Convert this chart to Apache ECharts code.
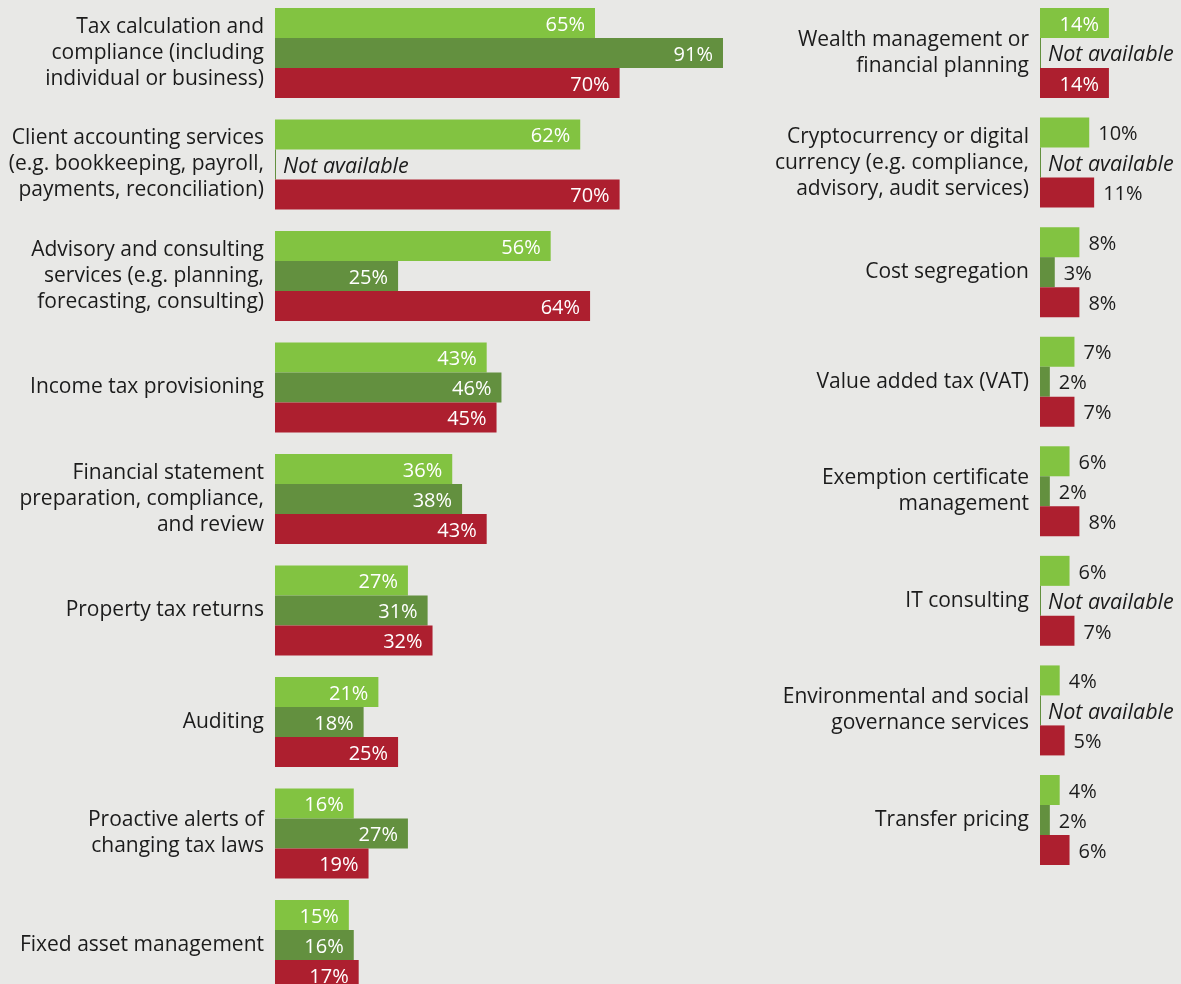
<!DOCTYPE html>
<html>
<head>
<meta charset="utf-8">
<title>Services offered</title>
<script src="https://cdn.jsdelivr.net/npm/echarts@6/dist/echarts.min.js"></script>
<style>
  html, body { margin: 0; padding: 0; background: #e8e8e6; }
  #chart { width: 1181px; height: 984px; }
</style>
</head>
<body>
<div id="chart"></div>
<script>
// Left panel: larger service lines
const leftCategories = [
  'Tax calculation and\ncompliance (including\nindividual or business)',
  'Client accounting services\n(e.g. bookkeeping, payroll,\npayments, reconciliation)',
  'Advisory and consulting\nservices (e.g. planning,\nforecasting, consulting)',
  'Income tax provisioning',
  'Financial statement\npreparation, compliance,\nand review',
  'Property tax returns',
  'Auditing',
  'Proactive alerts of\nchanging tax laws',
  'Fixed asset management'
];
const leftLight = [65, 62, 56, 43, 36, 27, 21, 16, 15];
const leftDark  = [91, null, 25, 46, 38, 31, 18, 27, 16];
const leftRed   = [70, 70, 64, 45, 43, 32, 25, 19, 17];

// Right panel: smaller service lines
const rightCategories = [
  'Wealth management or\nfinancial planning',
  'Cryptocurrency or digital\ncurrency (e.g. compliance,\nadvisory, audit services)',
  'Cost segregation',
  'Value added tax (VAT)',
  'Exemption certificate\nmanagement',
  'IT consulting',
  'Environmental and social\ngovernance services',
  'Transfer pricing'
];
const rightLight = [14, 10, 8, 7, 6, 6, 4, 4];
const rightDark  = [null, null, 3, 2, 2, null, null, 2];
const rightRed   = [14, 11, 8, 7, 8, 7, 5, 6];

const FONT = '"Open Sans", "Noto Sans", sans-serif';
const TEXT = '#1b1b1b';
const COLORS = ['#82c341', '#63903f', '#ad1f2f'];
const PX_PER_PCT = 4.923;

// Labels sit inside the bar end when it is long enough, otherwise just past it.
function items(values, insideMin) {
  return values.map(v => {
    if (v == null) {
      return {
        value: 0,
        label: {
          show: true, position: 'right', distance: 7, fontSize: 21.5,
          formatter: 'Not available', color: TEXT, fontStyle: 'italic'
        }
      };
    }
    const inside = v >= insideMin;
    return {
      value: v,
      label: {
        show: true,
        position: inside ? 'insideRight' : 'right',
        distance: inside ? 10 : 9,
        color: inside ? '#ffffff' : TEXT,
        formatter: '{c}%'
      }
    };
  });
}

function barSeries(values, idx, axisIdx, insideMin) {
  return {
    type: 'bar',
    name: ['A', 'B', 'C'][idx],
    xAxisIndex: axisIdx,
    yAxisIndex: axisIdx,
    barWidth: 30,
    barGap: '0%',
    barMinHeight: idx === 1 ? 1 : 0,
    itemStyle: { color: COLORS[idx] },
    label: { fontFamily: FONT, fontSize: 20, offset: [0, 2] },
    animation: false,
    data: items(values, insideMin)
  };
}

const leftBand = 111.5, rightBand = 109.57;
const leftMax = 100, rightMax = 28;

// Category names, nudged slightly down so they sit level with the bar groups
const axisLabelBase = {
  fontFamily: FONT, fontSize: 21, lineHeight: 26, color: TEXT, margin: 11, align: 'right',
  backgroundColor: 'rgba(0,0,0,0)', padding: [6, 0, 0, 0]
};

const option = {
  backgroundColor: '#e8e8e6',
  animation: false,
  grid: [
    {
      left: 275, top: 8 - (leftBand - 90) / 2,
      width: leftMax * PX_PER_PCT, height: leftBand * leftCategories.length,
      outerBoundsMode: 'none', containLabel: false
    },
    {
      left: 1040, top: 8 - (rightBand - 90) / 2,
      width: rightMax * PX_PER_PCT, height: rightBand * rightCategories.length,
      outerBoundsMode: 'none', containLabel: false
    }
  ],
  xAxis: [
    { gridIndex: 0, type: 'value', min: 0, max: leftMax, show: false },
    { gridIndex: 1, type: 'value', min: 0, max: rightMax, show: false }
  ],
  yAxis: [
    {
      gridIndex: 0, type: 'category', inverse: true, data: leftCategories,
      axisLine: { show: false }, axisTick: { show: false }, splitLine: { show: false },
      axisLabel: axisLabelBase
    },
    {
      gridIndex: 1, type: 'category', inverse: true, data: rightCategories,
      axisLine: { show: false }, axisTick: { show: false }, splitLine: { show: false },
      axisLabel: axisLabelBase
    }
  ],
  series: [
    barSeries(leftLight, 0, 0, 0),
    barSeries(leftDark, 1, 0, 0),
    barSeries(leftRed, 2, 0, 0),
    barSeries(rightLight, 0, 1, 12),
    barSeries(rightDark, 1, 1, 12),
    barSeries(rightRed, 2, 1, 12)
  ]
};

const chart = echarts.init(document.getElementById('chart'), null, { renderer: 'canvas' });
chart.setOption(option);
</script>
</body>
</html>
